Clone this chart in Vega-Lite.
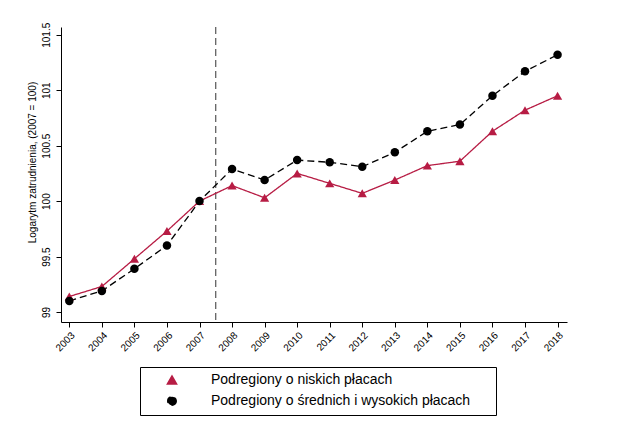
{
  "$schema": "https://vega.github.io/schema/vega-lite/v6.json",
  "width": 506,
  "height": 295,
  "autosize": {"type": "none"},
  "padding": {"left": 61, "top": 27, "right": 55, "bottom": 108},
  "background": "white",
  "config": {
    "view": {"stroke": null},
    "font": "Liberation Sans",
    "axis": {
      "grid": false,
      "domainColor": "black",
      "domainWidth": 1,
      "tickColor": "black",
      "tickWidth": 1,
      "tickSize": 5,
      "labelFont": "Liberation Sans",
      "labelFontSize": 10,
      "labelColor": "black",
      "labelOverlap": false,
      "titleFont": "Liberation Sans",
      "titleFontSize": 10,
      "titleFontWeight": "normal",
      "titleColor": "black"
    }
  },
  "data": {
    "values": [
      {"year": 2003, "value": 99.14, "series": "Podregiony o niskich płacach"},
      {"year": 2004, "value": 99.23, "series": "Podregiony o niskich płacach"},
      {"year": 2005, "value": 99.48, "series": "Podregiony o niskich płacach"},
      {"year": 2006, "value": 99.73, "series": "Podregiony o niskich płacach"},
      {"year": 2007, "value": 100.0, "series": "Podregiony o niskich płacach"},
      {"year": 2008, "value": 100.14, "series": "Podregiony o niskich płacach"},
      {"year": 2009, "value": 100.03, "series": "Podregiony o niskich płacach"},
      {"year": 2010, "value": 100.25, "series": "Podregiony o niskich płacach"},
      {"year": 2011, "value": 100.16, "series": "Podregiony o niskich płacach"},
      {"year": 2012, "value": 100.07, "series": "Podregiony o niskich płacach"},
      {"year": 2013, "value": 100.19, "series": "Podregiony o niskich płacach"},
      {"year": 2014, "value": 100.32, "series": "Podregiony o niskich płacach"},
      {"year": 2015, "value": 100.36, "series": "Podregiony o niskich płacach"},
      {"year": 2016, "value": 100.63, "series": "Podregiony o niskich płacach"},
      {"year": 2017, "value": 100.82, "series": "Podregiony o niskich płacach"},
      {"year": 2018, "value": 100.95, "series": "Podregiony o niskich płacach"},
      {"year": 2003, "value": 99.10, "series": "Podregiony o średnich i wysokich płacach"},
      {"year": 2004, "value": 99.19, "series": "Podregiony o średnich i wysokich płacach"},
      {"year": 2005, "value": 99.39, "series": "Podregiony o średnich i wysokich płacach"},
      {"year": 2006, "value": 99.60, "series": "Podregiony o średnich i wysokich płacach"},
      {"year": 2007, "value": 100.0, "series": "Podregiony o średnich i wysokich płacach"},
      {"year": 2008, "value": 100.29, "series": "Podregiony o średnich i wysokich płacach"},
      {"year": 2009, "value": 100.19, "series": "Podregiony o średnich i wysokich płacach"},
      {"year": 2010, "value": 100.37, "series": "Podregiony o średnich i wysokich płacach"},
      {"year": 2011, "value": 100.35, "series": "Podregiony o średnich i wysokich płacach"},
      {"year": 2012, "value": 100.31, "series": "Podregiony o średnich i wysokich płacach"},
      {"year": 2013, "value": 100.44, "series": "Podregiony o średnich i wysokich płacach"},
      {"year": 2014, "value": 100.63, "series": "Podregiony o średnich i wysokich płacach"},
      {"year": 2015, "value": 100.69, "series": "Podregiony o średnich i wysokich płacach"},
      {"year": 2016, "value": 100.95, "series": "Podregiony o średnich i wysokich płacach"},
      {"year": 2017, "value": 101.17, "series": "Podregiony o średnich i wysokich płacach"},
      {"year": 2018, "value": 101.32, "series": "Podregiony o średnich i wysokich płacach"}
    ]
  },
  "layer": [
    {
      "data": {"values": [{}]},
      "mark": {"type": "rule", "color": "#333333", "strokeWidth": 1, "strokeDash": [7, 4]},
      "encoding": {
        "x": {
          "datum": 2007.5, "type": "quantitative",
          "scale": {"domain": [2002.745, 2018.29], "nice": false, "zero": false},
          "axis": {"values": [2003, 2004, 2005, 2006, 2007, 2008, 2009, 2010, 2011, 2012, 2013, 2014, 2015, 2016, 2017, 2018], "format": "d", "labelAngle": -45, "labelOverlap": false, "title": null, "labelPadding": 3}
        }
      }
    },
    {
      "mark": {"type": "line", "strokeWidth": 1.3},
      "encoding": {
        "x": {
          "field": "year", "type": "quantitative",
          "scale": {"domain": [2002.745, 2018.29], "nice": false, "zero": false},
          "axis": {"values": [2003, 2004, 2005, 2006, 2007, 2008, 2009, 2010, 2011, 2012, 2013, 2014, 2015, 2016, 2017, 2018], "format": "d", "labelAngle": -45, "labelOverlap": false, "title": null, "labelPadding": 3}
        },
        "y": {
          "field": "value", "type": "quantitative",
          "scale": {"domain": [98.91, 101.57], "nice": false, "zero": false},
          "axis": {"values": [99, 99.5, 100, 100.5, 101, 101.5], "format": "~f", "labelAngle": -90, "labelOverlap": false, "title": "Logarytm zatrudnienia, (2007 = 100)", "titleY": 135, "labelPadding": 5}
        },
        "color": {
          "field": "series", "type": "nominal",
          "scale": {"domain": ["Podregiony o niskich płacach", "Podregiony o średnich i wysokich płacach"], "range": ["#b71c44", "#000000"]}
        },
        "strokeDash": {
          "field": "series", "type": "nominal",
          "scale": {"domain": ["Podregiony o niskich płacach", "Podregiony o średnich i wysokich płacach"], "range": [[1, 0], [7, 4]]},
          "legend": null
        }
      }
    },
    {
      "mark": {"type": "point", "filled": true, "opacity": 1},
      "encoding": {
        "x": {
          "field": "year", "type": "quantitative",
          "axis": {"values": [2003, 2004, 2005, 2006, 2007, 2008, 2009, 2010, 2011, 2012, 2013, 2014, 2015, 2016, 2017, 2018], "format": "d", "labelAngle": -45, "labelOverlap": false, "title": null, "labelPadding": 3}
        },
        "y": {
          "field": "value", "type": "quantitative",
          "axis": {"values": [99, 99.5, 100, 100.5, 101, 101.5], "format": "~f", "labelAngle": -90, "labelOverlap": false, "title": "Logarytm zatrudnienia, (2007 = 100)", "titleY": 135, "labelPadding": 5}
        },
        "color": {
          "field": "series", "type": "nominal",
          "legend": {
            "orient": "none",
            "legendX": 79,
            "legendY": 340,
            "title": "\u00a0",
            "titleOrient": "right",
            "titlePadding": 20,
            "titleFontSize": 14,
            "direction": "vertical",
            "strokeColor": "black",
            "fillColor": "white",
            "padding": 6,
            "labelFont": "Liberation Sans",
            "labelFontSize": 14,
            "labelColor": "black",
            "labelLimit": 0,
            "symbolSize": 100,
            "symbolOffset": 19,
            "labelOffset": 32,
            "rowPadding": 6
          }
        },
        "shape": {
          "field": "series", "type": "nominal",
          "scale": {"domain": ["Podregiony o niskich płacach", "Podregiony o średnich i wysokich płacach"], "range": ["triangle-up", "circle"]},
          "legend": null
        },
        "size": {
          "field": "series", "type": "nominal",
          "scale": {"domain": ["Podregiony o niskich płacach", "Podregiony o średnich i wysokich płacach"], "range": [85, 72]},
          "legend": null
        }
      }
    }
  ]
}
